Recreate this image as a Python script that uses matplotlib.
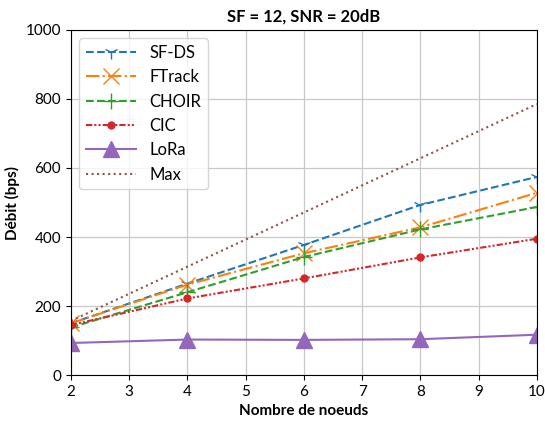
import matplotlib
matplotlib.use("Agg")
import matplotlib.pyplot as plt

plt.rcParams['font.family'] = ['Lato', 'DejaVu Sans']

nodes = [2, 4, 6, 8, 10]
sfds = [150, 265, 377, 493, 574]
ftrack = [150, 262, 353, 428, 528]
choir = [138, 240, 342, 422, 487]
cic = [145, 222, 280, 341, 395]
lora = [93, 103, 102, 104, 117]
maxi = [157, 314, 471, 628, 785]

fig = plt.figure(figsize=(5.45, 4.21), dpi=100)
ax = fig.add_axes([0.130, 0.109, 0.855, 0.820])

ax.plot(nodes, sfds, linestyle='--', marker='1', markersize=10, color='#1f77b4', label='SF-DS')
ax.plot(nodes, ftrack, linestyle='-.', marker='x', markersize=12, color='#ff7f0e', label='FTrack')
ax.plot(nodes, choir, linestyle='--', marker='+', markersize=12, color='#2ca02c', label='CHOIR')
ax.plot(nodes, cic, linestyle=(0, (3, 1, 1, 1, 1, 1)), marker='o', markersize=5, color='#d62728', label='CIC')
ax.plot(nodes, lora, linestyle='-', marker='^', markersize=11, color='#9467bd', label='LoRa')
ax.plot(nodes, maxi, linestyle=':', color='#8c564b', label='Max')

ax.set_xlim(2, 10)
ax.set_ylim(0, 1000)
ax.set_xticks(range(2, 11))
ax.grid(True, color='#c8c8c8', linewidth=0.9)
ax.tick_params(labelsize=11)
ax.set_xlabel('Nombre de noeuds', fontsize=11, fontweight='bold')
ax.set_ylabel('Débit (bps)', fontsize=11, fontweight='bold')
ax.set_title('SF = 12, SNR = 20dB', fontsize=12, fontweight='bold')
ax.legend(loc='upper left', fontsize=12, handlelength=3)

fig.savefig('out.png', dpi=100)
